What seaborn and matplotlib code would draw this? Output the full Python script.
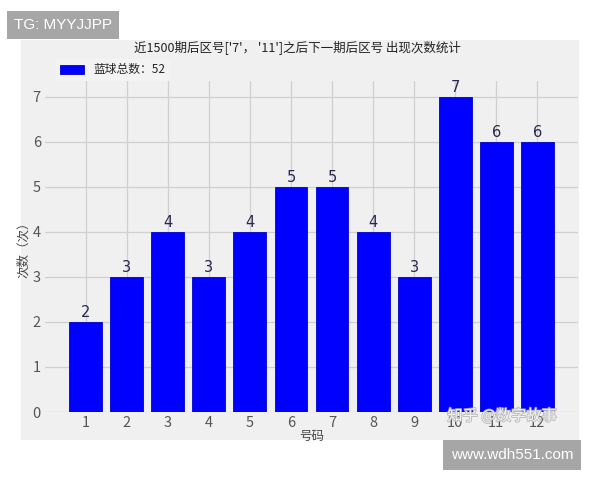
import matplotlib
matplotlib.use("Agg")
import matplotlib.pyplot as plt
import matplotlib.patheffects as pe
from matplotlib.patches import Rectangle
import seaborn as sns
import pandas as pd

numbers = ["1", "2", "3", "4", "5", "6", "7", "8", "9", "10", "11", "12"]
counts = [2, 3, 4, 3, 4, 5, 5, 4, 3, 7, 6, 6]
legend_label = "蓝球总数：52"
title = "近1500期后区号['7'， '11']之后下一期后区号 出现次数统计"
xlabel = "号码"
ylabel = "次数（次）"

sns.set_style("whitegrid")
plt.rcParams['font.family'] = ['Noto Sans CJK SC', 'DejaVu Sans']

df = pd.DataFrame({"号码": numbers, "次数": counts})

fig = plt.figure(figsize=(6, 4.8), dpi=100, facecolor="white")
# grey chart canvas
fig.patches.append(Rectangle((21/600, 1-440/480), (579-21)/600, 400/480,
                             transform=fig.transFigure, facecolor="#f0f0f0",
                             edgecolor="none", zorder=-10))

ax = fig.add_axes([45/600, 1-412/480, 533/600, 331/480])
ax.set_facecolor("#f0f0f0")
sns.barplot(data=df, x="号码", y="次数", order=numbers, color="#0000ff",
            saturation=1, width=0.8, ax=ax, label=legend_label,
            edgecolor="#0000cc", linewidth=0.6, zorder=3)
ax.set_xlim(-0.99, 11.99)
ax.set_ylim(0, 7.35)
ax.set_yticks(range(0, 8))
ax.grid(True, color="#d0d0d0", linewidth=0.9, zorder=0)
ax.set_axisbelow(True)
for s in ax.spines.values():
    s.set_visible(False)
ax.tick_params(axis="both", length=0, labelsize=10.5, labelcolor="#555555")
ax.tick_params(axis="y", pad=3)
ax.tick_params(axis="x", pad=3)
ax.set_xlabel(xlabel, fontsize=9, color="#444444", labelpad=0)
ax.set_ylabel(ylabel, fontsize=9, color="#444444", labelpad=2)

for i, v in enumerate(counts):
    ax.text(i, v + 0.04, str(v), ha="center", va="bottom", fontsize=10.5,
            color="#27274f", family=['DejaVu Sans'])

leg = ax.legend(loc="lower left", bbox_to_anchor=(0.02, 1.0), borderaxespad=0,
                fontsize=8.5, frameon=True, handlelength=2.0, handleheight=0.8)
leg.get_frame().set_facecolor("#f5f5f5")
leg.get_frame().set_edgecolor("none")

fig.text(297/600, 1-47/480, title, ha="center", va="center", fontsize=9, color="#222222")

# overlay boxes
fig.text(14/600, 1-25/480, "TG: MYYJJPP", ha="left", va="center", fontsize=11,
         color="white", family=['Liberation Sans'],
         bbox=dict(boxstyle="square,pad=0.45", facecolor="#a6a6a6", edgecolor="none"))
fig.text(512/600, 1-455/480, "www.wdh551.com", ha="center", va="center", fontsize=11,
         color="white", family=['Liberation Sans'],
         bbox=dict(boxstyle="square,pad=0.5", facecolor="#a6a6a6", edgecolor="none"))
fig.text(502/600, 1-416/480, "知乎 @数字故事", ha="center", va="center", fontsize=11,
         color="white", alpha=0.8,
         path_effects=[pe.withStroke(linewidth=1.3, foreground="#b0b0b0")])

fig.savefig("out.png", dpi=100, facecolor="white")
